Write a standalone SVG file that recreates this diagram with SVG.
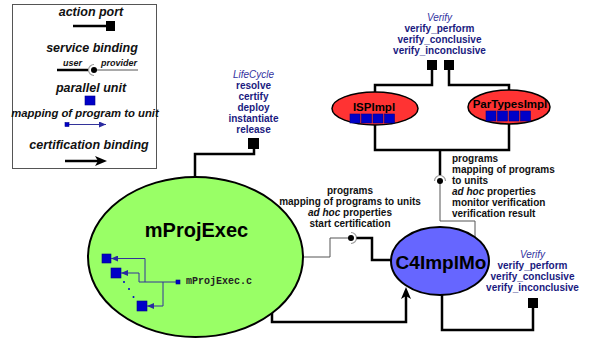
<svg xmlns="http://www.w3.org/2000/svg" width="591" height="340" viewBox="0 0 591 340">
<style>
text{font-family:"Liberation Sans",Arial,sans-serif;}
.leg{font-size:12.5px;font-weight:bold;font-style:italic;fill:#111;text-anchor:middle;}
.small{font-size:9px;font-weight:bold;font-style:italic;fill:#111;text-anchor:middle;}
.ifc{font-size:10px;fill:#33339f;font-style:italic;text-anchor:middle;}
.op{font-size:10px;font-weight:bold;fill:#1a1a80;text-anchor:middle;}
.blk{font-size:10px;font-weight:bold;fill:#111;}
.mid{text-anchor:middle;}
.it{font-style:italic;}
.thick{fill:none;stroke:#000;stroke-width:2.5;}
.thin{fill:none;stroke:#555;stroke-width:1;}
.arc{fill:none;stroke:#999;stroke-width:1.2;}
.dot{fill:#000;}
.port{fill:#000;}
.unit{fill:#0000c8;stroke:#00008a;stroke-width:0.6;}
.map{fill:none;stroke:#33339a;stroke-width:1;}
.nodeG{fill:#99ff66;stroke:#000;stroke-width:2;}
.nodeR{fill:#ff3333;stroke:#000;stroke-width:1.5;}
.nodeB{fill:#6666ff;stroke:#000;stroke-width:2;}
.lbl{font-weight:bold;fill:#000;text-anchor:middle;}
</style>
<defs>
<marker id="cert" viewBox="0 0 12 10" refX="4" refY="5" markerWidth="12" markerHeight="10" markerUnits="userSpaceOnUse" orient="auto">
<path d="M0,0 L12,5 L0,10 L3,5 z" fill="#000"/>
</marker>
<marker id="maparrow" viewBox="0 0 7 6" refX="7" refY="3" markerWidth="7" markerHeight="6" markerUnits="userSpaceOnUse" orient="auto">
<path d="M0,0 L7,3 L0,6 z" fill="#2a2aa0"/>
</marker>
</defs>
<rect width="591" height="340" fill="#fff"/>

<g id="legend">
<rect x="12.5" y="4.5" width="144" height="164" fill="#fff" stroke="#555" stroke-width="1"/>
<text class="leg" x="91" y="16">action port</text>
<line class="thick" x1="73" y1="26" x2="106" y2="26"/>
<rect class="port" x="106" y="21" width="9" height="10"/>
<text class="leg" x="92" y="52">service binding</text>
<text class="small" x="72.5" y="66">user</text>
<text class="small" x="119" y="66">provider</text>
<line class="thick" x1="57" y1="70" x2="88.5" y2="70"/>
<path class="arc" d="M94,64.5 A5.5,5.5 0 0 0 94,75.5"/>
<line class="thin" x1="94" y1="70" x2="138" y2="70"/>
<circle class="dot" cx="94" cy="70" r="3"/>
<text class="leg" x="91" y="92">parallel unit</text>
<rect class="unit" x="85" y="96" width="10" height="9"/>
<text class="leg" x="85" y="117" style="font-size:11.3px">mapping of program to unit</text>
<rect class="unit" x="65" y="122.5" width="4" height="4"/>
<path class="map" d="M69,124.5 H106" marker-end="url(#maparrow)"/>
<text class="leg" x="89" y="149">certification binding</text>
<path class="thick" d="M65,161 H99" marker-end="url(#cert)"/>
</g>

<g id="connectors">
<path class="thick" d="M195,177 V154 H254 V149"/>
<rect class="port" x="248" y="138" width="11" height="11"/>
<path class="thick" d="M432,70 V85 H375 V93"/>
<path class="thick" d="M449,70 V85 H509 V91"/>
<rect class="port" x="427" y="60" width="10" height="10"/>
<rect class="port" x="444" y="60" width="10" height="10"/>
<path class="thick" d="M375,124 V150 H509 V123"/>
<path class="thick" d="M440,150 V175.5"/>
<path class="arc" d="M434.5,181 A5.5,5.5 0 0 1 445.5,181"/>
<path class="thin" d="M440,181 V221 H475 V238"/>
<circle class="dot" cx="440" cy="181" r="3"/>
<path class="thin" d="M302,257 H330 V238 H351"/>
<path class="arc" d="M351,232.5 A5.5,5.5 0 0 1 351,243.5"/>
<path class="thick" d="M356.5,238 H372 V260 H392"/>
<circle class="dot" cx="351" cy="238" r="3"/>
<path class="thick" d="M272,312 V322 H406 V295" marker-end="url(#cert)"/>
<path class="thick" d="M442,294 V330 H533 V308"/>
<rect class="port" x="528" y="298" width="10" height="10"/>
</g>

<g id="LifeCycle">
<text class="ifc" x="253.5" y="78">LifeCycle</text>
<text class="op" x="253.5" y="89">resolve</text>
<text class="op" x="253.5" y="100">certify</text>
<text class="op" x="253.5" y="111">deploy</text>
<text class="op" x="253.5" y="122">instantiate</text>
<text class="op" x="253.5" y="133">release</text>
</g>

<g id="VerifyTop">
<text class="ifc" x="439.5" y="21">Verify</text>
<text class="op" x="439.5" y="32">verify_perform</text>
<text class="op" x="439.5" y="43">verify_conclusive</text>
<text class="op" x="439.5" y="54">verify_inconclusive</text>
</g>

<g id="VerifyBottom">
<text class="ifc" x="532.5" y="258">Verify</text>
<text class="op" x="532.5" y="269">verify_perform</text>
<text class="op" x="532.5" y="280">verify_conclusive</text>
<text class="op" x="532.5" y="291">verify_inconclusive</text>
</g>

<g id="labelMid">
<text class="blk mid" x="350" y="194">programs</text>
<text class="blk mid" x="350" y="205">mapping of programs to units</text>
<text class="blk mid" x="350" y="216"><tspan class="it">ad hoc</tspan> properties</text>
<text class="blk mid" x="350" y="227">start certification</text>
</g>

<g id="labelRight">
<text class="blk" x="452" y="162">programs</text>
<text class="blk" x="452" y="173">mapping of programs</text>
<text class="blk" x="452" y="184">to units</text>
<text class="blk" x="452" y="195"><tspan class="it">ad hoc</tspan> properties</text>
<text class="blk" x="452" y="206">monitor verification</text>
<text class="blk" x="452" y="217">verification result</text>
</g>

<g id="ISPImpl">
<ellipse class="nodeR" cx="375" cy="108.5" rx="43" ry="16.5"/>
<text class="lbl" x="374" y="111" style="font-size:11.5px">ISPImpl</text>
<rect class="unit" x="350" y="114" width="10" height="9"/>
<rect class="unit" x="361.5" y="114" width="10" height="9"/>
<rect class="unit" x="373" y="114" width="10" height="9"/>
<rect class="unit" x="384.5" y="114" width="10" height="9"/>
</g>

<g id="ParTypesImpl">
<ellipse class="nodeR" cx="509" cy="107" rx="41" ry="17"/>
<text class="lbl" x="510" y="107.5" style="font-size:11.5px">ParTypesImpl</text>
<rect class="unit" x="486" y="111" width="10" height="10"/>
<rect class="unit" x="497.5" y="111" width="10" height="10"/>
<rect class="unit" x="509" y="111" width="10" height="10"/>
<rect class="unit" x="520.5" y="111" width="10" height="10"/>
</g>

<g id="mProjExec">
<ellipse class="nodeG" cx="195.5" cy="257" rx="107.5" ry="80"/>
<text class="lbl" x="196.5" y="237" style="font-size:20px">mProjExec</text>
<rect class="unit" x="102" y="254" width="9" height="9"/>
<rect class="unit" x="111" y="268" width="10" height="10"/>
<rect class="unit" x="137" y="301" width="10" height="10"/>
<circle cx="124" cy="282" r="1" fill="#0000c8"/>
<circle cx="129" cy="289" r="1" fill="#0000c8"/>
<circle cx="133.5" cy="297" r="1" fill="#0000c8"/>
<path class="map" d="M139,282 H177"/>
<path class="map" d="M145,282 V258.5 H111" marker-end="url(#maparrow)"/>
<path class="map" d="M139,282 V273 H121" marker-end="url(#maparrow)"/>
<path class="map" d="M163,282 V306 H147" marker-end="url(#maparrow)"/>
<rect class="unit" x="176" y="280" width="4" height="4"/>
<text x="186" y="284" style="font-family:'Liberation Mono','Courier New',monospace;font-size:10px;font-weight:bold;fill:#222">mProjExec.c</text>
</g>

<g id="C4ImplMo">
<ellipse class="nodeB" cx="440" cy="261" rx="49" ry="34"/>
<text class="lbl" x="441" y="269" style="font-size:19px">C4ImplMo</text>
</g>
</svg>
